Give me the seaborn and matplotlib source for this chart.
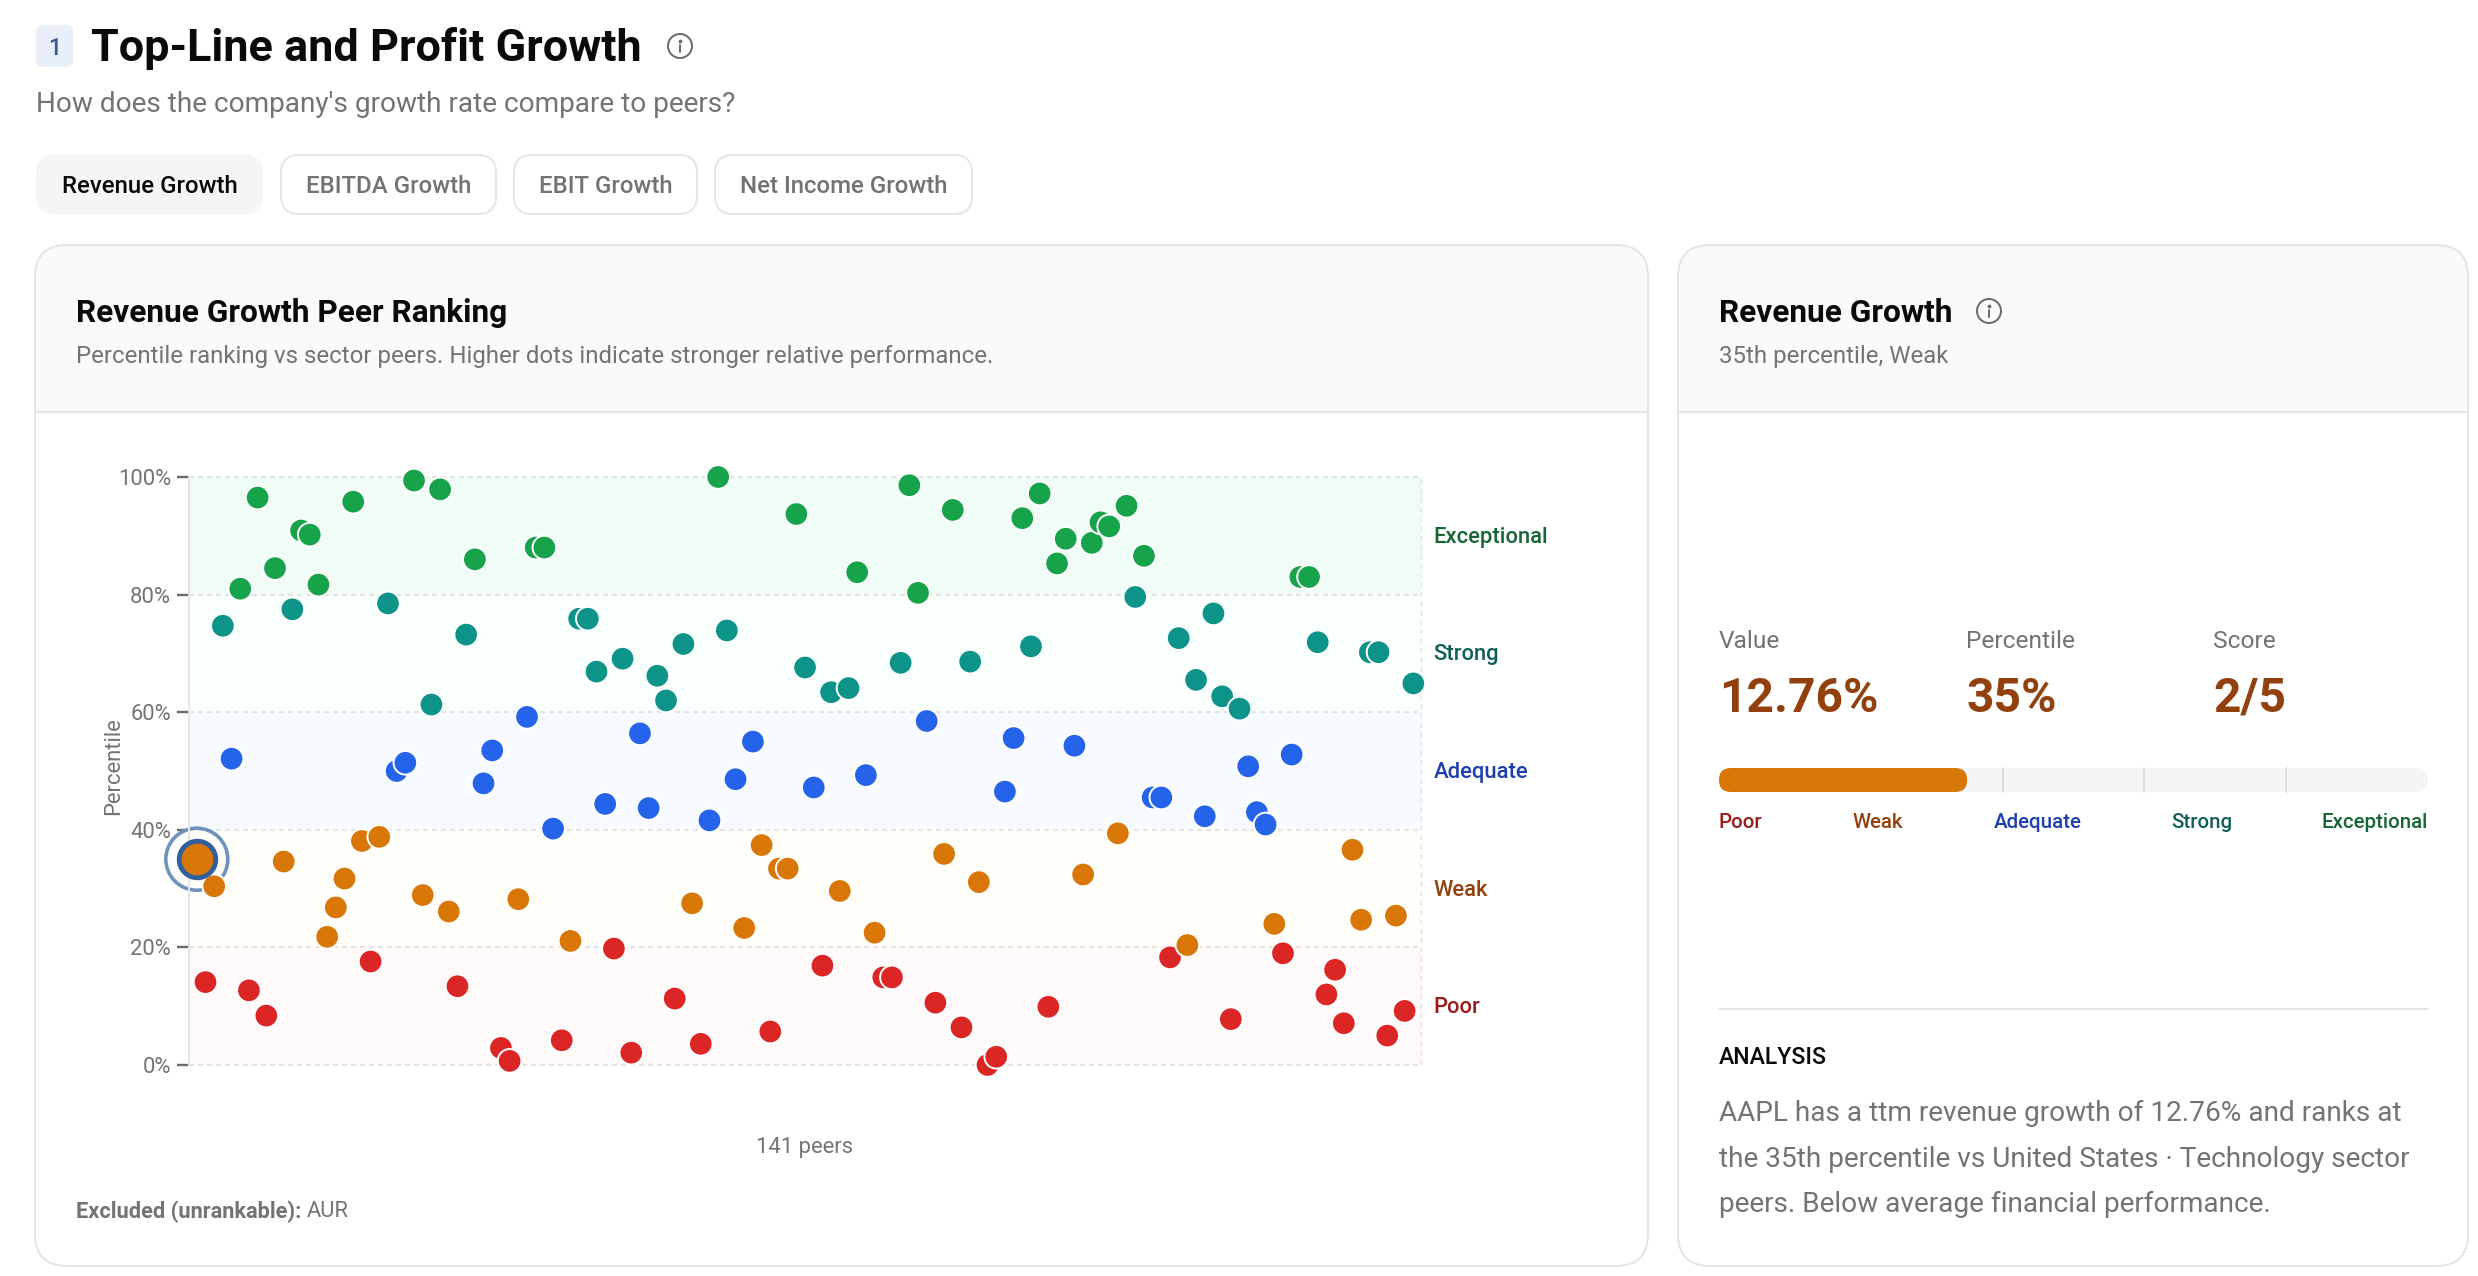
import matplotlib
matplotlib.use("Agg")
import matplotlib.pyplot as plt
from matplotlib.patches import FancyBboxPatch, Circle, Rectangle
import numpy as np
import pandas as pd
import seaborn as sns

sns.set_theme(style="white")
plt.rcParams["font.family"] = ["Roboto", "DejaVu Sans"]

W, H = 2478, 1276
PX = 72 / 100  # points per pixel at dpi 100

# Peer percentiles, ordered by position along the horizontal axis
peer_percentiles = [
    35.0, 14.1, 30.4, 74.7, 52.1, 81.0, 12.7, 96.5, 8.4, 84.5,
    34.6, 77.5, 90.9, 90.2, 81.7, 21.8, 26.8, 31.7, 95.8, 38.1,
    17.6, 38.8, 78.5, 50.0, 51.4, 99.4, 28.9, 61.3, 97.9, 26.1,
    13.4, 73.2, 86.0, 47.9, 53.5, 2.9, 0.7, 28.2, 59.2, 88.0,
    88.0, 40.2, 4.2, 21.1, 75.9, 75.9, 66.9, 44.4, 19.8, 69.1,
    2.1, 56.4, 43.7, 66.2, 62.0, 11.3, 71.6, 27.5, 3.6, 41.6,
    100.0, 73.9, 48.6, 23.3, 55.0, 37.4, 5.7, 33.4, 33.4, 93.7,
    67.6, 47.2, 16.9, 63.4, 29.6, 64.1, 83.8, 49.3, 22.5, 14.9,
    14.9, 68.4, 98.6, 80.3, 58.5, 10.6, 35.9, 94.4, 6.4, 68.6,
    31.1, 0.0, 1.4, 46.5, 55.6, 93.0, 71.2, 97.2, 9.9, 85.3,
    89.5, 54.3, 32.4, 88.8, 92.3, 91.6, 39.4, 95.1, 79.6, 86.6,
    45.5, 45.5, 18.3, 72.6, 20.4, 65.5, 42.3, 76.8, 62.7, 7.8,
    60.6, 50.8, 43.0, 40.9, 24.0, 19.0, 52.8, 83.0, 83.0, 71.9,
    12.0, 16.2, 7.1, 36.6, 24.7, 70.2, 70.2, 5.0, 25.4, 9.2,
    64.9,
]
subject_index = 0
subject_percentile = 35

band_names = ["Poor", "Weak", "Adequate", "Strong", "Exceptional"]
band_edges = [0, 20, 40, 60, 80, 100]
dot_colors = ["#dc2626", "#d97706", "#2563eb", "#0d9488", "#16a34a"]
band_fills = ["#fffafa", "#fffef8", "#f7fbff", "#f8fffd", "#effdf6"]
label_colors = ["#991b1b", "#92400e", "#1e40af", "#115e59", "#166534"]
percent_ticks = [0, 20, 40, 60, 80, 100]

tabs = ["Revenue Growth", "EBITDA Growth", "EBIT Growth", "Net Income Growth"]
tab_spans = [(36, 263), (281, 496), (514, 697), (715, 972)]

stat_names = ["Value", "Percentile", "Score"]
stat_values = ["12.76%", "35%", "2/5"]
stat_x = [1719, 1966, 2213]
analysis_lines = [
    "AAPL has a ttm revenue growth of 12.76% and ranks at",
    "the 35th percentile vs United States · Technology sector",
    "peers. Below average financial performance.",
]

GREY = "#737373"
INK = "#0a0a0a"
LINE = "#e5e5e5"

fig = plt.figure(figsize=(W / 100, H / 100), dpi=100, facecolor="white")
page = fig.add_axes([0, 0, 1, 1])
page.set_xlim(0, W)
page.set_ylim(H, 0)
page.axis("off")


def label(x, y, s, px, color=GREY, weight="normal", ha="left", **kw):
    return page.text(x, y, s, fontsize=px * PX, color=color, fontweight=weight,
                     ha=ha, va="center_baseline", **kw)


def rounded(x0, y0, x1, y1, r, fc, ec="none", lw=0, z=1):
    patch = FancyBboxPatch((x0 + r, y0 + r), x1 - x0 - 2 * r, y1 - y0 - 2 * r,
                           boxstyle=f"round,pad={r},rounding_size={r}",
                           fc=fc, ec=ec, lw=lw * PX, zorder=z)
    page.add_patch(patch)
    return patch


def info_icon(cx, cy, r=12):
    page.add_patch(Circle((cx, cy), r, fc="none", ec="#6b6b6b", lw=2 * PX, zorder=5))
    page.plot([cx, cx], [cy - 1, cy + 6], color="#6b6b6b", lw=2 * PX,
              solid_capstyle="round", zorder=5)
    page.plot([cx], [cy - 5], marker="o", ms=2.4 * PX, color="#6b6b6b", zorder=5)


def card(x0, x1, y0=245, y1=1266, header_bottom=412):
    body = rounded(x0, y0, x1, y1, 32, "white", z=1)
    head = Rectangle((x0, y0), x1 - x0, header_bottom - y0, fc="#fafafa", ec="none", zorder=1.5)
    page.add_patch(head)
    head.set_clip_path(body)
    page.plot([x0, x1], [header_bottom, header_bottom], color=LINE, lw=2 * PX, zorder=2)
    rounded(x0, y0, x1, y1, 32, "none", LINE, 2, z=3)


# Section heading and tabs
rounded(36, 25, 73, 67, 7, "#e9eff8")
label(54.5, 46, "1", 23, color="#2f5a92", weight="medium", ha="center")
label(91, 43.5, "Top-Line and Profit Growth", 45, color=INK, weight="semibold")
info_icon(680, 46)
label(36, 102, "How does the company's growth rate compare to peers?", 28)

for i, (name, (x0, x1)) in enumerate(zip(tabs, tab_spans)):
    if i == 0:
        rounded(x0, 155, x1, 214, 18, "#f5f5f5")
    else:
        rounded(x0, 155, x1, 214, 18, "white", LINE, 2)
    label((x0 + x1) / 2, 184, name, 24, color=INK if i == 0 else GREY,
          weight="medium", ha="center")

# Cards
card(35, 1648)
label(76, 310, "Revenue Growth Peer Ranking", 31.7, color=INK, weight="semibold")
label(76, 354, "Percentile ranking vs sector peers. Higher dots indicate stronger relative performance.", 24)
label(805, 1145, "141 peers", 22, ha="center")
label(76, 1209, "Excluded (unrankable):", 21.8, weight="bold")
label(307, 1209, "AUR", 22)

card(1678, 2468)
label(1719, 310, "Revenue Growth", 31.7, color=INK, weight="semibold")
info_icon(1989, 311)
label(1719, 354, "35th percentile, Weak", 24)

# Score summary
for name, value, x in zip(stat_names, stat_values, stat_x):
    label(x, 638.5, name, 24.5)
    label(x, 693.5, value, 48, color=label_colors[1], weight="semibold")

bar_x0, bar_x1, bar_y0, bar_y1 = 1719, 2428, 768, 792
bar_span = bar_x1 - bar_x0
rounded(bar_x0, bar_y0, bar_x1, bar_y1, 12, "#f5f5f5", z=2)
for edge in band_edges[2:-1]:
    x = bar_x0 + edge / 100 * bar_span
    page.plot([x, x], [bar_y0, bar_y1], color="#dedede", lw=2 * PX, zorder=2.5)
rounded(bar_x0, bar_y0, bar_x0 + subject_percentile / 100 * bar_span, bar_y1, 12, dot_colors[1], z=3)

scale_x = [1719, 1878, 2038, 2202, 2428]
scale_ha = ["left", "center", "center", "center", "right"]
for name, x, ha, color in zip(band_names, scale_x, scale_ha, label_colors):
    label(x, 820.5, name, 20.5, color=color, weight="medium", ha=ha)

page.plot([1719, 2428], [1009, 1009], color=LINE, lw=2 * PX, zorder=2)
label(1719, 1055, "ANALYSIS", 23, color=INK, weight="medium")
for y, line in zip([1110.5, 1156.5, 1201.5], analysis_lines):
    label(1719, y, line, 28)

# Ranking scatter: 141 evenly spaced slots over the 0-100 percentile range
plot_left, plot_right, plot_top, plot_bottom = 188.6, 1422, 477, 1065
ax = fig.add_axes([plot_left / W, 1 - plot_bottom / H,
                   (plot_right - plot_left) / W, (plot_bottom - plot_top) / H])
ax.patch.set_alpha(0)

peers = pd.DataFrame({"position": np.arange(len(peer_percentiles)), "percentile": peer_percentiles})
peers["band"] = pd.cut(peers["percentile"], bins=band_edges, labels=band_names,
                       right=False, include_lowest=True).astype(object).fillna("Exceptional")

for name, lo, hi, fill in zip(band_names, band_edges[:-1], band_edges[1:], band_fills):
    ax.axhspan(lo, hi, fc=fill, ec="none", zorder=0)
for edge in band_edges:
    ax.axhline(edge, color="#e3e3e3", lw=2 * PX, ls=(0, (2.5, 2)), zorder=1, clip_on=False)
ax.axvline(141, color="#e0e0e0", lw=2.4 * PX, ls=(0, (2.2, 1.7)), zorder=1)

# Highlighted company's outer halo sits beneath the peer dots
sx = subject_index
ax.scatter([sx], [subject_percentile], s=(2 * 31 * PX) ** 2, facecolor="none",
           edgecolor="#6f92bd", linewidth=3.6 * PX, clip_on=False, zorder=2.5)

sns.scatterplot(data=peers, x="position", y="percentile", hue="band",
                hue_order=band_names, palette=dict(zip(band_names, dot_colors)),
                s=290, edgecolor="white", linewidth=1.4, legend=False,
                clip_on=False, zorder=3, ax=ax)

# Inner ring and enlarged dot for the highlighted company
ax.scatter([sx], [subject_percentile], s=(2 * 18.3 * PX) ** 2, facecolor=dot_colors[1],
           edgecolor="#2f5f9c", linewidth=4.8 * PX, clip_on=False, zorder=5)

ax.set_xlim(-0.944, 141)
ax.set_ylim(0, 100)
ax.set_xticks([])
ax.set_yticks(percent_ticks)
ax.set_yticklabels([f"{t}%" for t in percent_ticks])
ax.tick_params(axis="y", length=12 * PX, width=2.4 * PX, color="#6b6b6b",
               labelcolor=GREY, labelsize=22 * PX, pad=5.5 * PX, left=True)
ax.set_xlabel("")
ax.set_ylabel("Percentile", fontsize=22 * PX, color=GREY)
ax.yaxis.set_label_coords(-0.052, 0.508)
sns.despine(ax=ax, top=True, right=True, bottom=True)
ax.spines["left"].set_color(LINE)
ax.spines["left"].set_linewidth(2 * PX)

for name, lo, hi, color in zip(band_names, band_edges[:-1], band_edges[1:], label_colors):
    ax.annotate(name, xy=(1, (lo + hi) / 2), xycoords=("axes fraction", "data"),
                xytext=(11.5 * PX, -1.5 * PX), textcoords="offset points", va="center",
                fontsize=22 * PX, color=color, fontweight="medium")

fig.savefig("out.png", dpi=100)
